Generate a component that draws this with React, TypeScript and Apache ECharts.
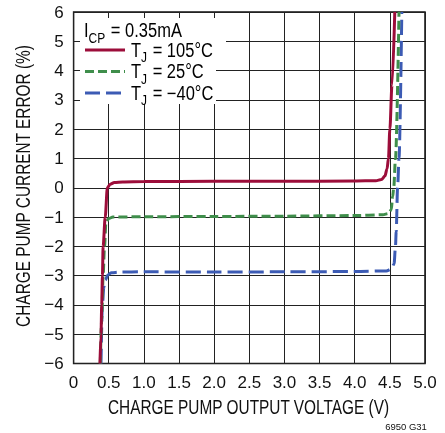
import React, { useEffect, useRef } from "react";
import * as echarts from "echarts";

const FONT = "'Liberation Sans', Arial, sans-serif";

const xTicks = [0, 0.5, 1.0, 1.5, 2.0, 2.5, 3.0, 3.5, 4.0, 4.5, 5.0];
const yTicks = [-6, -5, -4, -3, -2, -1, 0, 1, 2, 3, 4, 5, 6];

const seriesNames = ["T_J = 105°C", "T_J = 25°C", "T_J = −40°C"];
const xTitle = "CHARGE PUMP OUTPUT VOLTAGE (V)";
const yTitle = "CHARGE PUMP CURRENT ERROR (%)";

const red105: [number, number][] = [
  [0.375, -6], [0.39, -5], [0.40, -4], [0.41, -3], [0.42, -2], [0.45, -1],
  [0.48, 0], [0.52, 0.12], [0.58, 0.18], [0.7, 0.2], [1.0, 0.21], [2.0, 0.22],
  [3.0, 0.22], [4.0, 0.23], [4.3, 0.24], [4.38, 0.28], [4.43, 0.4], [4.46, 0.65],
  [4.48, 1.0], [4.5, 2.0], [4.53, 3.5], [4.57, 6],
];

const green25: [number, number][] = [
  [0.38, -6], [0.40, -4.5], [0.42, -3], [0.44, -2], [0.46, -1.2], [0.5, -1.05],
  [0.56, -1.0], [1.0, -0.99], [2.0, -0.98], [3.0, -0.97], [4.0, -0.95], [4.4, -0.92],
  [4.48, -0.88], [4.52, -0.75], [4.54, -0.3], [4.555, 0], [4.58, 1.0], [4.63, 6],
];

const blueM40: [number, number][] = [
  [0.39, -6], [0.41, -4], [0.43, -3.4], [0.45, -3.15], [0.49, -2.97], [0.54, -2.9],
  [0.65, -2.88], [1.0, -2.87], [2.0, -2.88], [3.0, -2.87], [4.0, -2.86], [4.45, -2.84],
  [4.52, -2.78], [4.56, -2.6], [4.58, -2.0], [4.59, -1.5], [4.61, 0], [4.63, 1.0], [4.67, 6],
];

const colors = ["#9c0d3a", "#3f8e4b", "#3c5bb4"];
const dashes: (number[] | "solid")[] = ["solid", [9, 4], [15, 6]];

export default function App() {
  const ref = useRef<HTMLDivElement>(null);
  useEffect(() => {
    if (!ref.current) return;
    const chart = echarts.init(ref.current, undefined, { renderer: "svg" });
    const datas = [red105, green25, blueM40];
    const sub = (t: string) => {
      const [a, rest] = t.split("_");
      const b = rest.slice(0, 1);
      const c = rest.slice(1);
      return `{m|${a}}{s|${b}}{m|${c}}`;
    };
    const rich = {
      m: { fontFamily: FONT, fontSize: 16.5, color: "#111", lineHeight: 18 },
      s: { fontFamily: FONT, fontSize: 12, color: "#111", lineHeight: 12, verticalAlign: "bottom", padding: [0, 1, -3, 0] },
    };
    const legendYs = [50, 71.5, 93];
    const graphics: any[] = [
      { type: "rect", z: 10, shape: { x: 80, y: 18, width: 136, height: 86 }, style: { fill: "#fff" } },
      { type: "rect", z: 10, shape: { x: 215, y: 36, width: 11, height: 18 }, style: { fill: "#fff" } },
      {
        type: "text", z: 11, x: 84, y: 30.5, scaleY: 1.2,
        style: { text: "{m|I}{s|CP}{m| = 0.35mA}", rich, verticalAlign: "middle", align: "left" },
      },
      {
        type: "text", z: 11, x: 406, y: 426.5,
        style: { text: "6950 G31", fontFamily: FONT, fontSize: 9.5, fill: "#111", align: "center", verticalAlign: "middle" },
      },
      {
        type: "text", z: 11, x: 248.5, y: 407, scaleY: 1.3,
        style: { text: xTitle, fontFamily: FONT, fontSize: 15.4, fill: "#111", align: "center", verticalAlign: "middle" },
      },
      {
        type: "text", z: 11, x: 23, y: 186, rotation: Math.PI / 2, scaleY: 1.3,
        style: { text: yTitle, fontFamily: FONT, fontSize: 15.4, fill: "#111", align: "center", verticalAlign: "middle" },
      },
    ];
    seriesNames.forEach((n, i) => {
      graphics.push({
        type: "line", z: 11,
        shape: { x1: 85, y1: legendYs[i], x2: 125, y2: legendYs[i] },
        style: { stroke: colors[i], lineWidth: 3, lineDash: dashes[i] === "solid" ? null : dashes[i] },
      });
      graphics.push({
        type: "text", z: 11, x: 131, y: legendYs[i], scaleY: 1.2,
        style: { text: sub(n), rich, verticalAlign: "middle", align: "left" },
      });
    });

    chart.setOption({
      animation: false,
      grid: {
        left: 73.6, right: 20, top: 12, bottom: 69.5,
        show: true, borderColor: "#111", borderWidth: 1.5, backgroundColor: "#fff",
      },
      xAxis: {
        type: "value", min: 0, max: 5, interval: 0.5,
        axisLine: { show: false }, axisTick: { show: false },
        axisLabel: {
          fontFamily: FONT, fontSize: 17, color: "#111", margin: 10,
          formatter: (v: number) => (xTicks.includes(v) ? (v === 0 ? "0" : v.toFixed(1)) : ""),
        },
        splitLine: { show: true, lineStyle: { color: "#222", width: 1 } },
      },
      yAxis: {
        type: "value", min: -6, max: 6, interval: 1,
        axisLine: { show: false }, axisTick: { show: false },
        axisLabel: {
          fontFamily: FONT, fontSize: 17, color: "#111", margin: 10,
          formatter: (v: number) => (yTicks.includes(v) ? (v < 0 ? "\u2212" + Math.abs(v) : String(v)) : ""),
        },
        splitLine: { show: true, lineStyle: { color: "#222", width: 1 } },
      },
      series: datas.map((d, i) => ({
        type: "line",
        name: seriesNames[i],
        data: d,
        showSymbol: false,
        smooth: 0.3,
        smoothMonotone: "x",
        z: 3 - i + 2,
        clip: true,
        lineStyle: { color: colors[i], width: 3, type: dashes[i] },
      })),
      graphic: graphics,
    });
    return () => chart.dispose();
  }, []);
  return <div ref={ref} style={{ position: "fixed", left: 0, top: 0, width: 445, height: 433 }} />;
}
